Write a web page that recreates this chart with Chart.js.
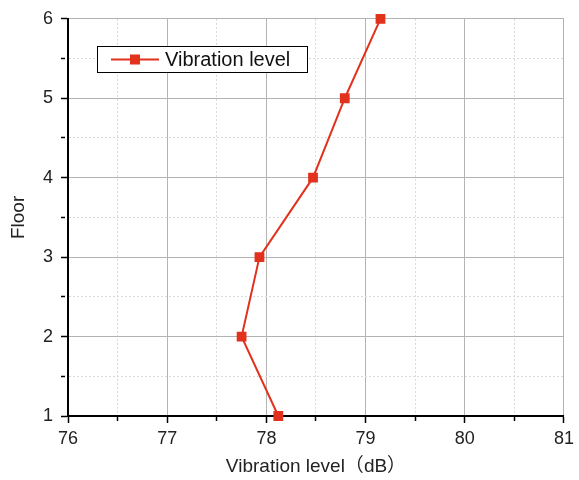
<!DOCTYPE html>
<html>
<head>
<meta charset="utf-8">
<script src="https://cdn.jsdelivr.net/npm/chart.js@4"></script>
<style>
  body { margin: 0; background: #fff; }
  #wrap { width: 579px; height: 480px; }
</style>
</head>
<body>
<div id="wrap"><canvas id="chart" width="579" height="480"></canvas></div>
<script>
// values
const floors = [1, 2, 3, 4, 5, 6];
const vibration = [78.12, 77.75, 77.93, 78.47, 78.79, 79.15];
const seriesName = 'Vibration level';
const xTitle = 'Vibration level（dB）';
const yTitle = 'Floor';

const red = '#e2311d';
const font = '"Liberation Sans", Arial, "Noto Sans CJK SC", sans-serif';

const isMinor = ctx => ctx.tick && Math.abs(ctx.tick.value % 1) > 0.001;

// legend box drawn inside the plot, like the original
const boxLegend = {
    id: 'boxLegend',
    afterDraw(chart) {
        const c = chart.ctx;
        const ds = chart.data.datasets[0];
        const x = 97, y = 46, w = 210, h = 26;
        c.save();
        c.fillStyle = '#fff';
        c.fillRect(x, y, w, h);
        c.strokeStyle = '#000';
        c.lineWidth = 1;
        c.strokeRect(x + 0.5, y + 0.5, w, h);
        const cy = y + h / 2 + 0.5;
        c.strokeStyle = ds.borderColor;
        c.lineWidth = 2;
        c.beginPath();
        c.moveTo(x + 14, cy);
        c.lineTo(x + 62, cy);
        c.stroke();
        c.fillStyle = ds.pointBackgroundColor;
        c.fillRect(x + 33, cy - 5, 10, 10);
        c.fillStyle = '#111';
        c.font = '20px ' + font;
        c.textBaseline = 'middle';
        c.fillText(ds.label, x + 68, cy + 1);
        c.restore();
    }
};

new Chart(document.getElementById('chart').getContext('2d'), {
    type: 'scatter',
    data: {
        datasets: [{
            label: seriesName,
            data: floors.map((f, i) => ({ x: vibration[i], y: f })),
            showLine: true,
            borderColor: red,
            backgroundColor: red,
            pointBackgroundColor: red,
            pointBorderColor: red,
            borderWidth: 2,
            pointStyle: 'rect',
            pointRadius: 5.5,
            clip: false
        }]
    },
    options: {
        responsive: false,
        animation: false,
        layout: { padding: { left: 0, right: 15, top: 17, bottom: 0 } },
        plugins: {
            legend: { display: false },
            tooltip: { enabled: false }
        },
        scales: {
            x: {
                type: 'linear',
                min: 76,
                max: 81,
                afterFit: s => { s.height = 64; },
                ticks: {
                    stepSize: 0.5,
                    color: '#222',
                    font: { family: font, size: 18 },
                    padding: 5,
                    maxRotation: 0,
                    autoSkip: false,
                    callback: v => (v % 1 === 0 ? v : '')
                },
                grid: {
                    color: ctx => (isMinor(ctx) ? '#d9d9d9' : '#b3b3b3'),
                    lineWidth: 1,
                    tickLength: 7,
                    tickColor: '#000',
                    tickWidth: 1.5,
                    tickBorderDash: ctx => (isMinor(ctx) ? [4, 20] : [])
                },
                border: {
                    color: '#000',
                    width: 2,
                    dash: ctx => (isMinor(ctx) ? [2, 2] : [])
                },
                title: {
                    display: true,
                    text: xTitle,
                    color: '#222',
                    font: { family: font, size: 19 },
                    padding: { top: 4, bottom: 2 }
                }
            },
            y: {
                type: 'linear',
                min: 1,
                max: 6,
                afterFit: s => { s.width = 68; },
                ticks: {
                    stepSize: 0.5,
                    color: '#222',
                    font: { family: font, size: 18 },
                    padding: 8,
                    autoSkip: false,
                    callback: v => (v % 1 === 0 ? v : '')
                },
                grid: {
                    color: ctx => (isMinor(ctx) ? '#d9d9d9' : '#b3b3b3'),
                    lineWidth: 1,
                    tickLength: 7,
                    tickColor: '#000',
                    tickWidth: 1.5,
                    tickBorderDash: ctx => (isMinor(ctx) ? [4, 20] : [])
                },
                border: {
                    color: '#000',
                    width: 2,
                    dash: ctx => (isMinor(ctx) ? [2, 2] : [])
                },
                title: {
                    display: true,
                    text: yTitle,
                    color: '#222',
                    font: { family: font, size: 19 },
                    padding: { top: 7, bottom: 4 }
                }
            }
        }
    },
    plugins: [boxLegend]
});
</script>
</body>
</html>
